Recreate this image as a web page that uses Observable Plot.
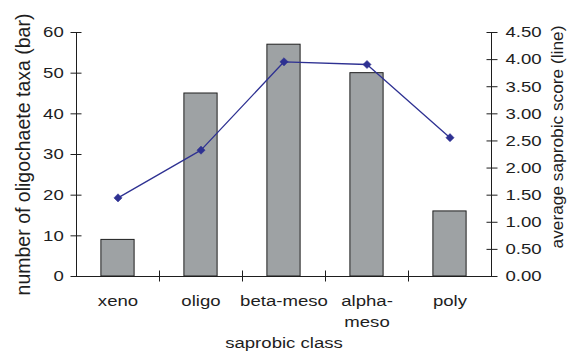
<!DOCTYPE html>
<html>
<head>
<meta charset="utf-8">
<script src="https://cdn.jsdelivr.net/npm/d3@7"></script>
<script src="https://cdn.jsdelivr.net/npm/@observablehq/plot@0.6"></script>
<style>
  html, body { margin: 0; padding: 0; background: white; }
  #chart { position: relative; width: 568px; height: 352px; }
  #chart svg { position: absolute; left: 0; top: 0; }
</style>
</head>
<body>
<div id="chart"></div>
<script>
// ---- data ----
const categories = ["xeno", "oligo", "beta-meso", "alpha-meso", "poly"];
const categoryLabels = ["xeno", "oligo", "beta-meso", "alpha-\nmeso", "poly"];
const taxaCount = [9, 45, 57, 50, 16];
const saprobicScore = [1.45, 2.33, 3.96, 3.91, 2.56];
const leftTicks = [0, 10, 20, 30, 40, 50, 60];
const rightTicks = [0, 0.5, 1, 1.5, 2, 2.5, 3, 3.5, 4, 4.5];
const leftTitle = "number of oligochaete taxa (bar)";
const rightTitle = "average saprobic score (line)";
const bottomTitle = "saprobic class";

const rows = categories.map((c, i) => ({cat: c, taxa: taxaCount[i], score: saprobicScore[i]}));

// ---- layout ----
const W = 568, H = 352, mL = 76, mR = 77, mT = 32, mB = 76;
const step = (W - mL - mR) / categories.length;
const ink = "#1e1e1e";
const font = "'Liberation Sans', Arial, sans-serif";

const xScale = {type: "band", domain: categories, paddingInner: 0.6, paddingOuter: 0.3, round: false};

const common = {
  width: W, height: H,
  marginLeft: mL, marginRight: mR, marginTop: mT, marginBottom: mB
};

// ---- bar chart (left axis) ----
const barPlot = Plot.plot({
  ...common,
  x: xScale,
  style: {fontFamily: font, fontSize: "15px", color: ink, background: "white"},
  y: {domain: [0, 60]},
  marks: [
    Plot.barY(rows, {x: "cat", y: "taxa", fill: "#9ea2a4", stroke: ink, strokeWidth: 1}),
    Plot.frame({anchor: "left", stroke: ink}),
    Plot.ruleY([0], {stroke: ink}),
    Plot.axisY({ticks: leftTicks, tickSize: 11, dx: 5.5, text: null, label: null, stroke: ink}),
    Plot.axisY({ticks: leftTicks, tickSize: 0, tickPadding: 12.7, label: null, fontSize: 15, fill: ink}),
    Plot.axisX({ticks: categories.slice(1), tickSize: 11, dy: -5.5, dx: -step / 2, text: null, label: null, stroke: ink}),
    Plot.axisX({tickSize: 0, tickPadding: 13.9, lineHeight: 1.42, label: null, fontSize: 15, fill: ink,
      tickFormat: d => categoryLabels[categories.indexOf(d)]}),
    Plot.text([leftTitle], {frameAnchor: "left", rotate: -90, dx: -52.5, textAnchor: "middle", lineAnchor: "middle", fontSize: 19.5, fill: ink}),
    Plot.text([bottomTitle], {frameAnchor: "bottom", dy: 66.5, textAnchor: "middle", lineAnchor: "middle", fontSize: 15, fill: ink})
  ]
});

// ---- line chart (right axis) ----
const linePlot = Plot.plot({
  ...common,
  x: {...xScale, axis: null},
  style: {fontFamily: font, fontSize: "15px", color: ink, background: "transparent"},
  y: {domain: [0, 4.5]},
  marks: [
    Plot.frame({anchor: "right", stroke: ink}),
    Plot.axisY({anchor: "right", ticks: rightTicks, tickSize: 11, dx: -5.5, text: null, label: null, stroke: ink}),
    Plot.axisY({anchor: "right", ticks: rightTicks, tickSize: 0, tickPadding: 14, label: null, fontSize: 15, fill: ink,
      tickFormat: d3.format(".2f")}),
    Plot.line(rows, {x: "cat", y: "score", stroke: "#2e3192", strokeWidth: 1.3}),
    Plot.dot(rows, {x: "cat", y: "score", symbol: "diamond2", r: 3.7, fill: "#2e3192", stroke: "#2e3192", strokeWidth: 0.5}),
    Plot.text([rightTitle], {frameAnchor: "right", rotate: -90, dx: 65.7, dy: -17.5, textAnchor: "middle", lineAnchor: "middle", fontSize: 17.3, fill: ink})
  ]
});

const chart = document.getElementById("chart");
chart.append(barPlot, linePlot);

// The reference's horizontal text is stretched sideways: widen the glyphs
// around each label's own anchor point.
const stretch = 1.24;
for (const svg of [barPlot, linePlot]) {
  for (const t of svg.querySelectorAll("text")) {
    if (!t.textContent) continue;
    const tr = t.getAttribute("transform") || "";
    if (tr.includes("rotate")) continue;
    const ax = +(t.getAttribute("x") || 0);
    t.setAttribute("transform", `${tr} translate(${ax},0) scale(${stretch},1) translate(${-ax},0)`.trim());
  }
}
</script>
</body>
</html>
